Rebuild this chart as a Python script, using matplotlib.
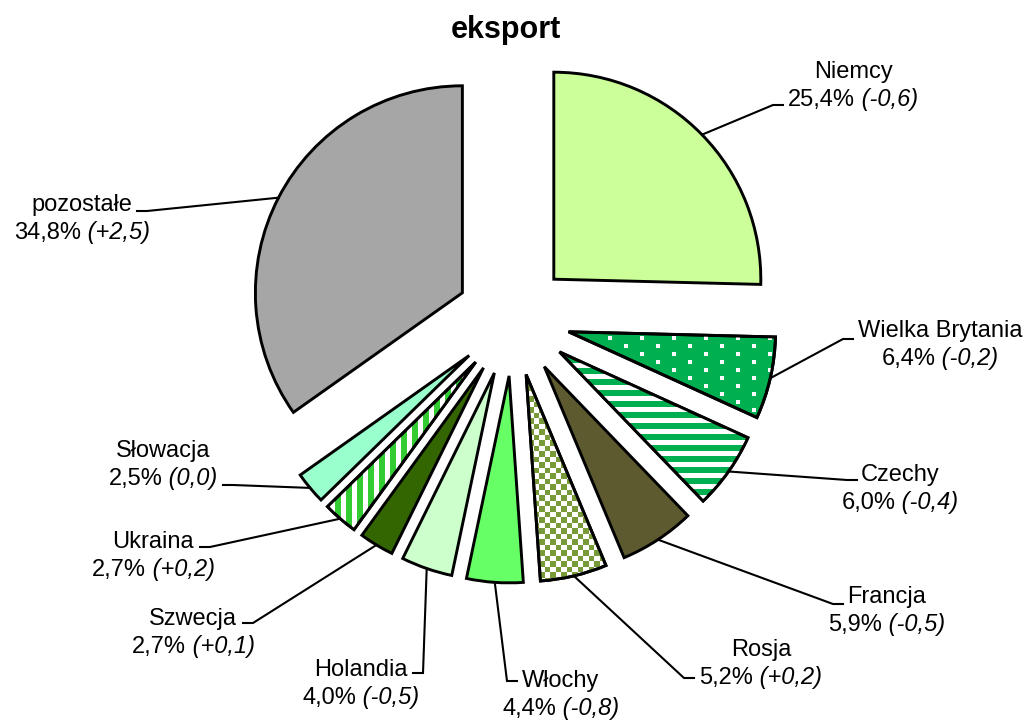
import matplotlib
matplotlib.use('Agg')
import matplotlib.pyplot as plt
from matplotlib.patches import Wedge
import numpy as np

countries = ['Niemcy', 'Wielka Brytania', 'Czechy', 'Francja', 'Rosja', 'Włochy',
             'Holandia', 'Szwecja', 'Ukraina', 'Słowacja', 'pozostałe']
shares = [25.4, 6.4, 6.0, 5.9, 5.2, 4.4, 4.0, 2.7, 2.7, 2.5, 34.8]
changes = ['-0,6', '-0,2', '-0,4', '-0,5', '+0,2', '-0,8', '-0,5', '+0,1', '+0,2', '0,0', '+2,5']

colors = ['#CCFF99', '#00B050', '#00B050', '#5D5A30', '#FFFFFF', '#66FF66',
          '#CCFFCC', '#336600', '#33CC33', '#99FFCC', '#A6A6A6']
patterns = [None, 'dots', 'hstripes', None, 'checker', None, None, None, 'vstripes', None, None]

# label layout in image pixels: centre x, baseline of first line
label_pos = [(853, 78), (940, 337), (900, 481), (887, 603), (761, 656), (561, 687),
             (361, 676), (193, 625), (153, 548), (163, 457), (82, 211)]
# leader stub end (pixels) and stub direction (+1 right, -1 left)
stub_end = [(783, 105, 1), (853, 339, 1), (857, 480, 1), (843, 604, 1), (694, 678, 1),
            (517, 681, 1), (413, 673, -1), (243, 623, -1), (200, 547, -1), (223, 485, -1),
            (137, 211, -1)]

W, H = 1028, 720
CX, CY, R = 513, 319, 207
FS = 17

plt.rcParams['font.family'] = ['Liberation Sans', 'DejaVu Sans']


def px(x, y):
    return (x - CX) / R, (CY - y) / R


fig = plt.figure(figsize=(W / 100, H / 100), dpi=100)
ax = fig.add_axes([0, 0, 1, 1])

wedges, _ = ax.pie(shares, explode=[57 / R] * len(shares), colors=colors,
                   startangle=90, counterclock=False, radius=1,
                   wedgeprops=dict(edgecolor='black', linewidth=2.1, joinstyle='miter'))

# fill patterns, drawn as pixel images clipped to the wedges
ii, jj = np.mgrid[0:H, 0:W]
masks = {
    'dots': ((ii % 8) < 4) & (((jj + 16 * ((ii // 8) % 2)) % 32) < 4),
    'hstripes': (ii % 11) < 5,
    'vstripes': (jj % 11) < 5,
    'checker': (((ii * 2) // 11 + (jj * 2) // 11) % 2) == 0,
}
pattern_color = {'dots': (1, 1, 1), 'hstripes': (1, 1, 1), 'vstripes': (1, 1, 1),
                 'checker': (0.478, 0.604, 0.227)}
extent = (-CX / R, (W - CX) / R, -(H - CY) / R, CY / R)
for w, pat in zip(wedges, patterns):
    if pat is None:
        continue
    rgba = np.zeros((H, W, 4))
    rgba[..., :3] = pattern_color[pat]
    rgba[..., 3] = masks[pat]
    im = ax.imshow(rgba, extent=extent, origin='upper', interpolation='nearest', zorder=1.5)
    im.set_clip_path(w)
    ax.add_patch(Wedge(w.center, w.r, w.theta1, w.theta2, fill=False, ec='black',
                       lw=2.1, joinstyle='miter', zorder=3))

renderer = fig.canvas.get_renderer()
for w, name, v, chg, (lx, ly), (ex, ey, sd) in zip(wedges, countries, shares, changes,
                                                    label_pos, stub_end):
    mid = np.deg2rad((w.theta1 + w.theta2) / 2)
    sx = w.center[0] + w.r * np.cos(mid)
    sy = w.center[1] + w.r * np.sin(mid)
    elb = px(ex - sd * 10, ey)
    end = px(ex, ey)
    ax.plot([sx, elb[0], end[0]], [sy, elb[1], end[1]], color='black', lw=1.5,
            solid_joinstyle='miter', zorder=4)

    ax.text(*px(lx, ly), name, ha='center', va='baseline', fontsize=FS)
    y2 = px(lx, ly + 28)[1]
    t1 = ax.text(0, y2, f'{v:.1f}'.replace('.', ',') + '%', ha='left', va='baseline',
                 fontsize=FS)
    t2 = ax.text(0, y2, ' (' + chg + ')', ha='left', va='baseline', fontsize=FS,
                 style='italic')
    w1 = t1.get_window_extent(renderer).width
    w2 = t2.get_window_extent(renderer).width
    left = lx - (w1 + w2) / 2
    t1.set_x(px(left, 0)[0])
    t2.set_x(px(left + w1, 0)[0])

fig.text(506 / W, 1 - 30 / H, 'eksport', ha='center', va='center', fontsize=22,
         fontweight='bold')

ax.set_xlim(extent[0], extent[1])
ax.set_ylim(extent[2], extent[3])
ax.set_aspect('equal')
ax.axis('off')

fig.savefig('out.png', dpi=100)
